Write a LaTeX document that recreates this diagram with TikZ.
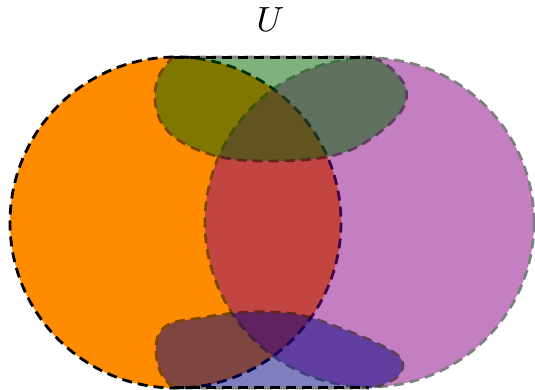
\documentclass[tikz,border=0pt]{standalone}
\begin{document}
\begin{tikzpicture}[x=1pt,y=-1pt,
  setline/.style={dash pattern=on 10pt off 6pt, line width=2.8pt}]
\definecolor{setorange}{RGB}{255,140,0}
\definecolor{setpurple}{RGB}{136,0,132}
\definecolor{setgreen}{RGB}{0,100,0}
\definecolor{setnavy}{RGB}{0,0,128}
\useasboundingbox (0,0) rectangle (535,389);
% set A (orange)
\fill[setorange] (175.5,222.5) circle (165.5);
\draw[setline, black] (175.5,222.5) circle (165.5);
% set B (purple)
\begin{scope}[transparency group, opacity=0.5]
\path[setline, draw=black, fill=setpurple] (369.5,222.5) circle (164.5);
\end{scope}
% set C (green, top)
\begin{scope}[transparency group, opacity=0.5]
\path[setline, draw=black, fill=setgreen] plot[smooth, tension=0.6] coordinates {
  (373,57) (393,70) (406,89) (403,108) (385,128) (355,148) (320,158) (273,161)
  (225,158) (185,144) (163,125) (155,100) (159,76) (173,57)} -- cycle;
\end{scope}
% set D (navy, bottom)
\begin{scope}[transparency group, opacity=0.5]
\path[setline, draw=black, fill=setnavy] plot[smooth, tension=0.6] coordinates {
  (173,388) (161,373) (156,352) (159,334) (172,323) (200,318) (235,313) (273,312)
  (305,316) (340,328) (372,341) (396,354) (403,365) (396,378) (375,387) (367,388)} -- cycle;
\end{scope}
% universe edges
\draw[setline, black] (174,57.3) -- (372,57.3);
\draw[setline, black] (174,387.8) -- (369,387.8);
\node (U) at (270.5,20) {\scalebox{3.5}{$U$}};
\end{tikzpicture}
\end{document}
